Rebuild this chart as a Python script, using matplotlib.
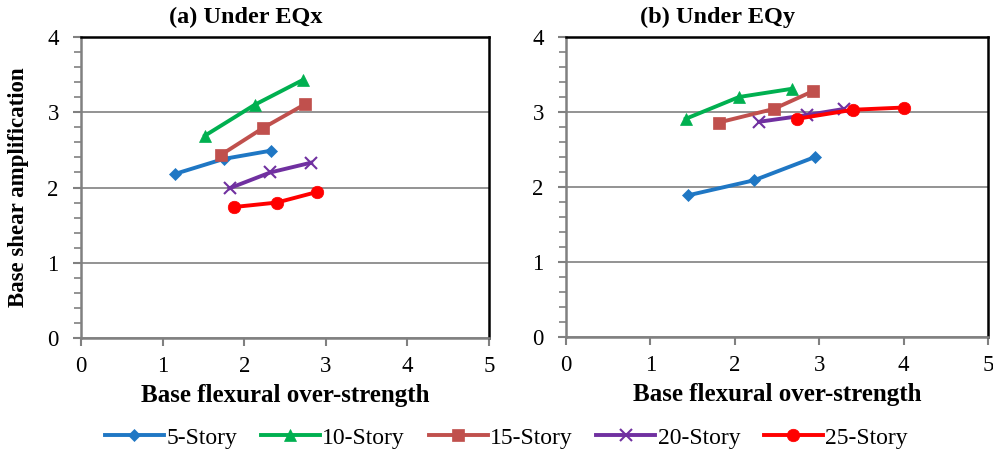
import matplotlib
matplotlib.use("Agg")
import matplotlib.pyplot as plt
from matplotlib.ticker import MultipleLocator
from matplotlib.lines import Line2D

plt.rcParams['font.family'] = ['Liberation Serif', 'DejaVu Serif']

series_names = ["5-Story", "10-Story", "15-Story", "20-Story", "25-Story"]
colors = ["#1F77C4", "#00B050", "#C0504D", "#7030A0", "#FF0000"]
markers = ["D", "^", "s", "x", "o"]
marker_sizes = [6, 9, 9, 9, 9]

# Under EQx: base flexural over-strength (x) and base shear amplification (y)
eqx_x = {
    "5-Story":  [1.15, 1.75, 2.33],
    "10-Story": [1.52, 2.13, 2.72],
    "15-Story": [1.71, 2.23, 2.75],
    "20-Story": [1.82, 2.32, 2.82],
    "25-Story": [1.87, 2.40, 2.89],
}
eqx_y = {
    "5-Story":  [2.18, 2.38, 2.49],
    "10-Story": [2.69, 3.10, 3.43],
    "15-Story": [2.43, 2.79, 3.11],
    "20-Story": [1.99, 2.20, 2.33],
    "25-Story": [1.74, 1.80, 1.94],
}

# Under EQy
eqy_x = {
    "5-Story":  [1.45, 2.23, 2.95],
    "10-Story": [1.42, 2.05, 2.68],
    "15-Story": [1.81, 2.46, 2.93],
    "20-Story": [2.29, 2.86, 3.29],
    "25-Story": [2.74, 3.40, 4.01],
}
eqy_y = {
    "5-Story":  [1.89, 2.09, 2.40],
    "10-Story": [2.91, 3.20, 3.31],
    "15-Story": [2.86, 3.04, 3.28],
    "20-Story": [2.87, 2.96, 3.04],
    "25-Story": [2.91, 3.03, 3.06],
}

panel_titles = ["(a) Under EQx", "(b) Under EQy"]
x_ticks = [0, 1, 2, 3, 4, 5]
y_ticks = [0, 1, 2, 3, 4]

W, H = 993, 457
fig = plt.figure(figsize=(W / 100, H / 100), dpi=100)

def px_axes(left, right, top, bottom):
    return fig.add_axes([left / W, 1 - bottom / H, (right - left) / W, (bottom - top) / H])

ax_a = px_axes(81, 489, 37, 338)
ax_b = px_axes(566, 988, 37, 337)

gray = "#808080"
title_x = [0.404, 0.36]
for ax, xs, ys, title, tx in [(ax_a, eqx_x, eqx_y, panel_titles[0], title_x[0]),
                              (ax_b, eqy_x, eqy_y, panel_titles[1], title_x[1])]:
    for name, c, m, ms in zip(series_names, colors, markers, marker_sizes):
        ax.plot(xs[name], ys[name], color=c, marker=m, markersize=ms, lw=2.8,
                markeredgewidth=1.5 if m == "x" else 0.5, markeredgecolor=c,
                zorder=3, clip_on=False)
    ax.set_xlim(0, 5)
    ax.set_ylim(0, 4)
    ax.set_xticks(x_ticks)
    ax.set_yticks(y_ticks)
    ax.yaxis.set_minor_locator(MultipleLocator(0.2))
    ax.grid(axis="y", which="major", color=gray, lw=1.2, zorder=0)
    ax.set_axisbelow(True)
    for side in ["top", "right"]:
        ax.spines[side].set_color("black")
        ax.spines[side].set_linewidth(1.8)
    for side in ["left", "bottom"]:
        ax.spines[side].set_color(gray)
        ax.spines[side].set_linewidth(1.8)
    ax.tick_params(axis="both", which="major", direction="out", length=6,
                   width=1.5, color=gray, labelsize=16.5, pad=7)
    ax.tick_params(axis="y", which="minor", direction="out", length=5,
                   width=1.2, color=gray)
    ax.tick_params(axis="y", which="major", pad=10)
    ax.set_title(title, fontsize=17.5, fontweight="bold", pad=10, x=tx)
    ax.set_xlabel("Base flexural over-strength", fontsize=18, fontweight="bold")
    ax.xaxis.set_label_coords(0.5, -0.153)

ax_a.set_ylabel("Base shear amplification", fontsize=16.5, fontweight="bold")
ax_a.yaxis.set_label_coords(-0.128, 0.5)

handles = [Line2D([], [], color=c, marker=m, markersize=ms, lw=2.8,
                  markeredgewidth=1.5 if m == "x" else 0.5, markeredgecolor=c)
           for c, m, ms in zip(colors, markers, marker_sizes)]
fig.legend(handles, series_names, loc="center", bbox_to_anchor=(0.51, 1 - 438 / H),
           ncol=5, frameon=False, fontsize=17, handlelength=2.5, handletextpad=0.1,
           columnspacing=1.0)

fig.savefig("out.png", dpi=100)
